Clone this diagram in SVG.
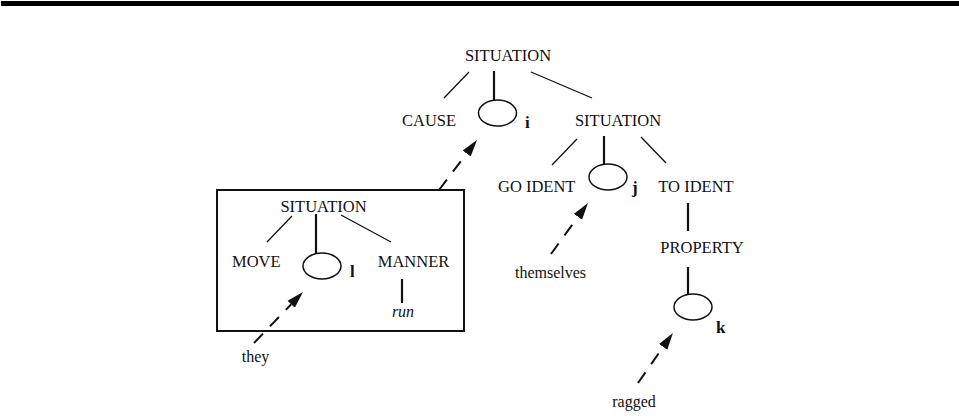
<svg xmlns="http://www.w3.org/2000/svg" width="959" height="418" viewBox="0 0 959 418">
  <style>
    text { font-family: "Liberation Serif", "Times New Roman", serif; font-size: 16.5px; fill: #111; }
    .lbl { text-anchor: middle; }
    .idx { font-weight: bold; font-size: 17px; }
    .word { font-size: 16px; text-anchor: middle; }
    .it { font-style: italic; font-size: 16px; text-anchor: middle; }
    .thin { stroke: #111; stroke-width: 1.3; fill: none; }
    .thick { stroke: #111; stroke-width: 2.2; fill: none; }
    .var { stroke: #111; stroke-width: 1.5; fill: #fff; }
    .dash { stroke: #111; stroke-width: 2; fill: none; stroke-dasharray: 13 10; marker-end: url(#head); }
  </style>
  <defs>
    <marker id="head" viewBox="0 -5.5 17 11" refX="0" refY="0" markerWidth="17" markerHeight="11" markerUnits="userSpaceOnUse" orient="auto">
      <path d="M0,-5 L17,0 L0,5 z" fill="#111"/>
    </marker>
  </defs>

  <rect x="1" y="1" width="958" height="5" fill="#000"/>

  <!-- tree edges -->
  <g id="edges">
    <line class="thin" x1="469" y1="72" x2="444" y2="98"/>
    <line class="thick" x1="494" y1="71" x2="494" y2="100"/>
    <line class="thin" x1="531" y1="72" x2="592" y2="98"/>
    <line class="thin" x1="577" y1="139" x2="552" y2="165"/>
    <line class="thick" x1="604" y1="136" x2="604" y2="165"/>
    <line class="thin" x1="641" y1="137" x2="666" y2="163"/>
    <line class="thick" x1="688" y1="203" x2="688" y2="231"/>
    <line class="thick" x1="688" y1="267" x2="688" y2="295"/>
    <line class="thin" x1="292" y1="216" x2="267" y2="242"/>
    <line class="thick" x1="316" y1="214" x2="316" y2="254"/>
    <line class="thin" x1="341" y1="215" x2="391" y2="242"/>
    <line class="thick" x1="402" y1="279" x2="402" y2="303"/>
    <!-- dashed binding arrows -->
    <line class="dash" x1="439" y1="190" x2="466.7" y2="153.5"/>
    <line class="dash" x1="551" y1="254" x2="578" y2="216.8"/>
    <line class="dash" x1="638" y1="383" x2="663.2" y2="346.9"/>
    <line class="dash" x1="254" y1="343" x2="291.2" y2="304.3"/>
  </g>

  <g id="root"><text class="lbl" x="508" y="61">SITUATION</text></g>
  <g id="cause"><text x="402" y="126">CAUSE</text></g>
  <g id="var-i">
    <ellipse class="var" cx="497.5" cy="113" rx="19" ry="13"/>
    <text class="idx" x="525" y="128">i</text>
  </g>
  <g id="situation-2"><text class="lbl" x="618" y="126">SITUATION</text></g>
  <g id="go-ident"><text x="498" y="192">GO IDENT</text></g>
  <g id="var-j">
    <ellipse class="var" cx="608" cy="177" rx="19" ry="13"/>
    <text class="idx" x="632" y="193">j</text>
  </g>
  <g id="to-ident"><text class="lbl" x="696" y="192">TO IDENT</text></g>
  <g id="property"><text class="lbl" x="702" y="253">PROPERTY</text></g>
  <g id="var-k">
    <ellipse class="var" cx="693" cy="307" rx="19" ry="13"/>
    <text class="idx" x="716" y="333">k</text>
  </g>
  <g id="themselves"><text class="word" x="550.5" y="278">themselves</text></g>
  <g id="ragged"><text class="word" x="634" y="407">ragged</text></g>

  <g id="subtree">
    <rect x="217" y="190" width="247" height="141" fill="none" stroke="#111" stroke-width="2"/>
    <text class="lbl" x="323.5" y="212">SITUATION</text>
    <text x="232" y="267">MOVE</text>
    <ellipse class="var" cx="322" cy="266" rx="19" ry="13"/>
    <text class="idx" x="350" y="277">l</text>
    <text class="lbl" x="413.5" y="267">MANNER</text>
    <text class="it" x="403" y="317">run</text>
  </g>
  <g id="they"><text class="word" x="255.5" y="362">they</text></g>
</svg>
